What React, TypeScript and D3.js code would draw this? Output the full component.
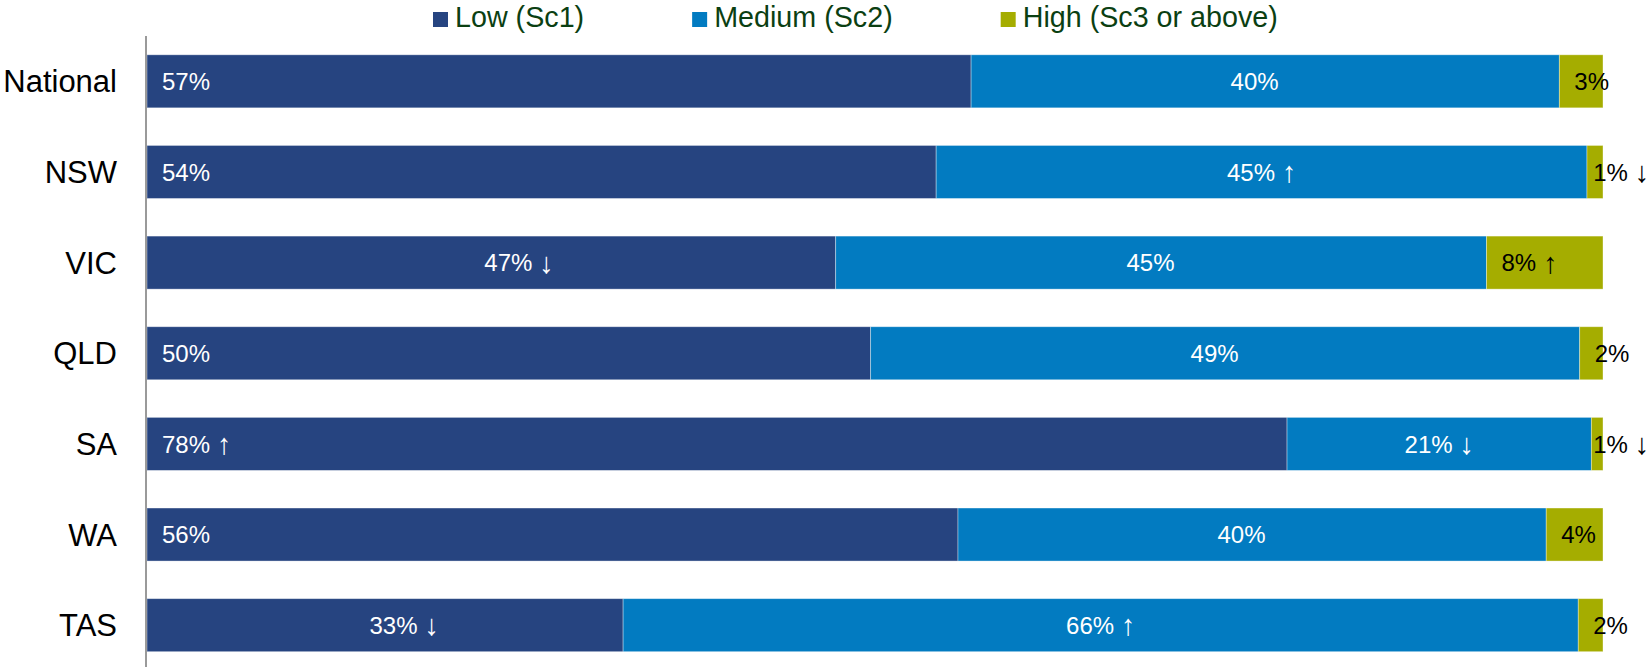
import React, { useEffect, useRef } from "react";
import * as d3 from "d3";

// ── Data ──────────────────────────────────────────────────────────────────
const categories = ["National", "NSW", "VIC", "QLD", "SA", "WA", "TAS"];
const lowValues = [56.6, 54.2, 47.3, 49.7, 78.3, 55.7, 32.7];
const mediumValues = [40.4, 44.7, 44.7, 48.7, 20.9, 40.4, 65.6];
const highValues = [3.0, 1.1, 8.0, 1.6, 0.8, 3.9, 1.7];
const lowArrows = ["", "", "↓", "", "↑", "", "↓"];
const mediumArrows = ["", "↑", "", "", "↓", "", "↑"];
const highArrows = ["", "↓", "↑", "", "↓", "", ""];
const seriesNames = ["Low (Sc1)", "Medium (Sc2)", "High (Sc3 or above)"];
const seriesColors = ["#264480", "#027bc1", "#a5ad00"];

type Row = { cat: string; low: number; medium: number; high: number; i: number };

const App: React.FC = () => {
    const svgRef = useRef<SVGSVGElement | null>(null);

    useEffect(() => {
        if (!svgRef.current) return;
        document.body.style.margin = "0";

        const WIDTH = 1652;
        const HEIGHT = 667;
        const FONT = "'Liberation Sans', Arial, sans-serif";

        const svg = d3.select(svgRef.current);
        svg.selectAll("*").remove();
        svg.attr("width", WIDTH).attr("height", HEIGHT).style("font-family", FONT);

        const rows: Row[] = categories.map((cat, i) => ({
            cat,
            low: lowValues[i],
            medium: mediumValues[i],
            high: highValues[i],
            i,
        }));

        // ── Scales ────────────────────────────────────────────────────────
        const x = d3.scaleLinear().domain([0, 100]).range([147, 1603]);
        const y = d3.scaleBand<string>().domain(categories).range([36, 670.5]).paddingInner(0.415).paddingOuter(0.2075);

        const keys = ["low", "medium", "high"];
        const layers = d3.stack<Row>().keys(keys)(rows);

        // ── Bars ──────────────────────────────────────────────────────────
        layers.forEach((layer, li) => {
            svg.append("g")
                .selectAll("rect")
                .data(layer)
                .enter()
                .append("rect")
                .attr("x", (d) => x(d[0]))
                .attr("y", (d) => y(d.data.cat) as number)
                .attr("width", (d) => x(d[1]) - x(d[0]))
                .attr("height", y.bandwidth())
                .attr("fill", seriesColors[li])
                .attr("stroke", "rgba(255,255,255,0.45)")
                .attr("stroke-width", 0.8);
        });

        // ── Axis line ─────────────────────────────────────────────────────
        svg.append("line")
            .attr("x1", 146).attr("x2", 146)
            .attr("y1", 36).attr("y2", 670)
            .attr("stroke", "#9a9a9a")
            .attr("stroke-width", 2);

        // ── Category labels ───────────────────────────────────────────────
        svg.append("g")
            .selectAll("text")
            .data(categories)
            .enter()
            .append("text")
            .attr("x", 117)
            .attr("y", (d) => (y(d) as number) + y.bandwidth() / 2)
            .attr("dy", "0.355em")
            .attr("text-anchor", "end")
            .attr("font-size", 31)
            .attr("fill", "#000")
            .text((d) => d);

        // ── Data labels ───────────────────────────────────────────────────
        const labelSize = 24;
        const lowCentered = new Set(["VIC", "TAS"]);
        const cy = (cat: string) => (y(cat) as number) + y.bandwidth() / 2;

        // label = value text + (optionally invisible) tall arrow
        const addLabel = (
            g: d3.Selection<SVGTextElement, unknown, null, undefined>,
            value: number,
            arrow: string,
            keepSpace: boolean
        ) => {
            g.append("tspan").text(`${Math.round(value)}%`);
            if (arrow || keepSpace) {
                g.append("tspan").text(" ");
                g.append("tspan")
                    .attr("font-size", 29)
                    .attr("dy", "0.05em")
                    .attr("fill-opacity", arrow ? 1 : 0)
                    .text(arrow || "↑");
            }
        };

        // low
        layers[0].forEach((d) => {
            const r = d.data;
            const x0 = x(d[0]);
            const w = x(d[1]) - x0;
            const centered = lowCentered.has(r.cat);
            const t = svg.append("text")
                .attr("x", centered ? x0 + w * 0.54 : x0 + 15)
                .attr("y", cy(r.cat))
                .attr("dy", "0.36em")
                .attr("text-anchor", centered ? "middle" : "start")
                .attr("font-size", labelSize)
                .attr("fill", "#fff");
            addLabel(t as any, r.low, lowArrows[r.i], false);
        });

        // medium – centred, an invisible arrow keeps the same spacing
        layers[1].forEach((d) => {
            const r = d.data;
            const t = svg.append("text")
                .attr("x", (x(d[0]) + x(d[1])) / 2)
                .attr("y", cy(r.cat))
                .attr("dy", "0.36em")
                .attr("text-anchor", "middle")
                .attr("font-size", labelSize)
                .attr("fill", "#fff");
            addLabel(t as any, r.medium, mediumArrows[r.i], true);
        });

        // high – kept inside the chart's right edge
        layers[2].forEach((d) => {
            const r = d.data;
            const t = svg.append("text")
                .attr("x", x(d[0]) + 15)
                .attr("y", cy(r.cat))
                .attr("dy", "0.36em")
                .attr("text-anchor", "start")
                .attr("font-size", labelSize)
                .attr("fill", "#000");
            addLabel(t as any, r.high, highArrows[r.i], false);
            const tw = (t.node() as SVGTextElement).getComputedTextLength();
            if (x(d[0]) + 15 + tw > WIDTH - 3) t.attr("x", WIDTH - 3 - tw);
        });

        // ── Legend ────────────────────────────────────────────────────────
        const legend = svg.append("g");
        let lx = 433;
        seriesNames.forEach((name, i) => {
            legend.append("rect")
                .attr("x", lx).attr("y", 12)
                .attr("width", 15).attr("height", 15)
                .attr("fill", seriesColors[i]);
            const txt = legend.append("text")
                .attr("x", lx + 22)
                .attr("y", 27)
                .attr("font-size", 28.7)
                .attr("fill", "#0b3f12")
                .text(name);
            const tw = (txt.node() as SVGTextElement).getComputedTextLength();
            lx += 22 + tw + 108;
        });
    }, []);

    return <svg ref={svgRef} style={{ display: "block" }} />;
};

export default App;
